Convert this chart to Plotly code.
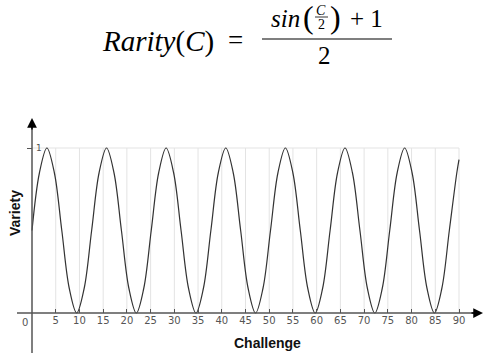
import plotly.graph_objects as go

# Rarity curve: challenge (x) against variety (y)
challenge = [0, 1.57, 3.14, 4.71, 6.28, 7.85, 9.42, 11.0,
             12.57, 14.14, 15.71, 17.28, 18.85, 20.42, 21.99, 23.56,
             25.13, 26.7, 28.27, 29.85, 31.42, 32.99, 34.56, 36.13,
             37.7, 39.27, 40.84, 42.41, 43.98, 45.55, 47.12, 48.69,
             50.27, 51.84, 53.41, 54.98, 56.55, 58.12, 59.69, 61.26,
             62.83, 64.4, 65.97, 67.54, 69.12, 70.69, 72.26, 73.83,
             75.4, 76.97, 78.54, 80.11, 81.68, 83.25, 84.82, 86.39,
             87.96, 89.54, 90]
variety = [0.5, 0.85, 1.0, 0.85, 0.5, 0.15, 0.0, 0.15,
           0.5, 0.85, 1.0, 0.85, 0.5, 0.15, 0.0, 0.15,
           0.5, 0.85, 1.0, 0.85, 0.5, 0.15, 0.0, 0.15,
           0.5, 0.85, 1.0, 0.85, 0.5, 0.15, 0.0, 0.15,
           0.5, 0.85, 1.0, 0.85, 0.5, 0.15, 0.0, 0.15,
           0.5, 0.85, 1.0, 0.85, 0.5, 0.15, 0.0, 0.15,
           0.5, 0.85, 1.0, 0.85, 0.5, 0.15, 0.0, 0.15,
           0.5, 0.85, 0.93]

x_ticks = list(range(5, 95, 5))
x_tick_labels = [str(v) for v in x_ticks]
y_ticks = [1]
y_tick_labels = ["1"]
x_max = 90
y_max = 1

W, H = 484, 358
# pixels where (0, 0) and (90, 1) sit
PX0, PX90 = 32, 459
PY0, PY1 = 313, 148


def dx(p):
    return (p - PX0) / (PX90 - PX0) * x_max


def dy(p):
    return (PY0 - p) / (PY0 - PY1) * y_max


def text(s, x, y, size, family="Liberation Serif", color="black",
         xanchor="center", angle=0):
    return dict(text=s, x=x / W, y=1 - y / H, xref="paper", yref="paper",
                showarrow=False, xanchor=xanchor, yanchor="middle",
                textangle=angle, font=dict(family=family, size=size, color=color))


def hline(x0, x1, y, width=1.0):
    return dict(type="line", xref="paper", yref="paper",
                x0=x0 / W, x1=x1 / W, y0=1 - y / H, y1=1 - y / H,
                line=dict(color="black", width=width))


fig = go.Figure()

fig.add_trace(go.Scatter(
    x=challenge, y=variety, mode="lines", line_shape="spline",
    line=dict(color="#333333", width=1.2), hoverinfo="skip", showlegend=False
))

shapes = []
# light grid: vertical at each tick up to 1, horizontal at 1
for v in x_ticks:
    shapes.append(dict(type="line", x0=v, x1=v, y0=0, y1=y_max, layer="below",
                       line=dict(color="#e3e3e3", width=1)))
shapes.append(dict(type="line", x0=0, x1=x_max, y0=y_max, y1=y_max, layer="below",
                   line=dict(color="#e3e3e3", width=1)))
# axis lines
shapes.append(dict(type="line", x0=dx(17), x1=dx(476), y0=0, y1=0,
                   line=dict(color="#555555", width=1.5)))
shapes.append(dict(type="line", x0=0, x1=0, y0=dy(353), y1=dy(126),
                   line=dict(color="#555555", width=1.5)))
# formula fraction bars
shapes.append(hline(262, 392, 39, 1.2))
shapes.append(hline(315, 328, 17, 0.8))

annotations = [
    # arrow heads
    dict(x=dx(483), y=0, ax=dx(470), ay=0, xref="x", yref="y", axref="x", ayref="y",
         showarrow=True, arrowhead=2, arrowsize=1.3, arrowwidth=1.5, arrowcolor="black", text=""),
    dict(x=0, y=dy(118), ax=0, ay=dy(131), xref="x", yref="y", axref="x", ayref="y",
         showarrow=True, arrowhead=2, arrowsize=1.3, arrowwidth=1.5, arrowcolor="black", text=""),
    # origin label
    text("0", 25, 322, 10, family="DejaVu Sans", color="#555555"),
    # axis titles
    text("<b>Challenge</b>", 267, 343, 14, family="Liberation Sans", color="#111111"),
    text("<b>Variety</b>", 15, 213, 14, family="Liberation Sans", color="#111111", angle=-90),
    # formula
    text("<i>Rarity</i>(<i>C</i>)", 158, 41, 29),
    text("=", 235, 40, 27),
    text("<i>sin</i>", 302, 18, 25, xanchor="right"),
    text("(", 308, 17, 32),
    text("<i>C</i>", 321, 10, 14),
    text("2", 321, 24, 14),
    text(")", 335, 17, 32),
    text("+ 1", 348, 18, 25, xanchor="left"),
    text("2", 324, 55, 25),
]

fig.update_layout(
    width=W, height=H,
    margin=dict(l=0, r=0, t=0, b=0),
    paper_bgcolor="white", plot_bgcolor="white",
    showlegend=False,
    shapes=shapes,
    annotations=annotations,
    xaxis=dict(range=[dx(0), dx(W)], anchor="free", position=(H - PY0) / H,
               tickvals=x_ticks, ticktext=x_tick_labels, ticks="inside", ticklen=4,
               tickwidth=1.2, tickcolor="#555555", showgrid=False, zeroline=False,
               showline=False, tickfont=dict(family="DejaVu Sans", size=10, color="#555555")),
    yaxis=dict(range=[dy(H), dy(0)], anchor="free", position=PX0 / W,
               tickvals=y_ticks, ticktext=y_tick_labels, ticks="outside", ticklen=5,
               tickwidth=1.2, tickcolor="#555555", ticklabelposition="inside",
               showgrid=False, zeroline=False, showline=False,
               tickfont=dict(family="DejaVu Sans", size=9, color="#555555")),
)

# drop the page's default body margin so the figure fills the window
fig.write_html("out.html", config={"displayModeBar": False},
               post_script="document.body.style.margin = '0';")
